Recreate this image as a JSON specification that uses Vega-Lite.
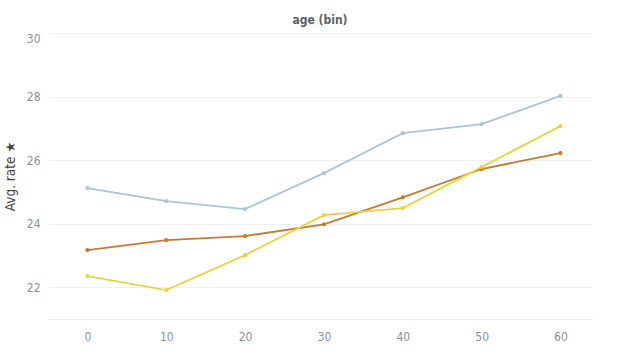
{
  "$schema": "https://vega.github.io/schema/vega-lite/v6.json",
  "autosize": "none",
  "width": 544,
  "height": 286,
  "padding": {"left": 48, "top": 33, "right": 48, "bottom": 35},
  "background": "white",
  "title": {"text": "age (bin)", "fontSize": 12, "font": "DejaVu Sans Condensed", "fontWeight": "bold", "color": "#5a5f66", "anchor": "middle", "offset": 5},
  "config": {"view": {"stroke": null}},
  "data": {"values": [
    {"age": 0, "s": "A", "rate": 25.12},
    {"age": 10, "s": "A", "rate": 24.71},
    {"age": 20, "s": "A", "rate": 24.46},
    {"age": 30, "s": "A", "rate": 25.59},
    {"age": 40, "s": "A", "rate": 26.85},
    {"age": 50, "s": "A", "rate": 27.13},
    {"age": 60, "s": "A", "rate": 28.02},
    {"age": 0, "s": "B", "rate": 23.17},
    {"age": 10, "s": "B", "rate": 23.48},
    {"age": 20, "s": "B", "rate": 23.61},
    {"age": 30, "s": "B", "rate": 23.98},
    {"age": 40, "s": "B", "rate": 24.83},
    {"age": 50, "s": "B", "rate": 25.72},
    {"age": 60, "s": "B", "rate": 26.22},
    {"age": 0, "s": "C", "rate": 22.35},
    {"age": 10, "s": "C", "rate": 21.91},
    {"age": 20, "s": "C", "rate": 23.01},
    {"age": 30, "s": "C", "rate": 24.27},
    {"age": 40, "s": "C", "rate": 24.49},
    {"age": 50, "s": "C", "rate": 25.78},
    {"age": 60, "s": "C", "rate": 27.07}
  ]},
  "encoding": {
    "x": {"field": "age", "type": "quantitative", "scale": {"domain": [-5, 64], "nice": false, "zero": false},
      "axis": {"title": null, "values": [0, 10, 20, 30, 40, 50, 60], "grid": false, "ticks": false, "domain": true, "domainColor": "#ececec", "labelColor": "#8a9299", "labelFontSize": 12, "labelFont": "DejaVu Sans Condensed", "labelPadding": 12}},
    "y": {"field": "rate", "type": "quantitative", "scale": {"domain": [21, 30], "nice": false, "zero": false},
      "axis": {"title": "Avg. rate ★", "titleFont": "DejaVu Sans Condensed", "titleFontSize": 13.5, "titleFontWeight": "normal", "titleColor": "#444", "titlePadding": 9, "values": [22, 24, 26, 28, 30], "grid": true, "gridColor": "#f0f0f0", "ticks": false, "domain": false, "labelFlush": true, "labelColor": "#8a9299", "labelFontSize": 12, "labelFont": "DejaVu Sans Condensed", "labelPadding": 8}},
    "color": {"field": "s", "type": "nominal", "legend": null, "scale": {"domain": ["A", "B", "C"], "range": ["#a9c6d8", "#c97a2c", "#e8d442"]}}
  },
  "layer": [
    {"mark": {"type": "line", "strokeWidth": 1.8}},
    {"mark": {"type": "point", "filled": true, "size": 18, "opacity": 1}}
  ]
}
